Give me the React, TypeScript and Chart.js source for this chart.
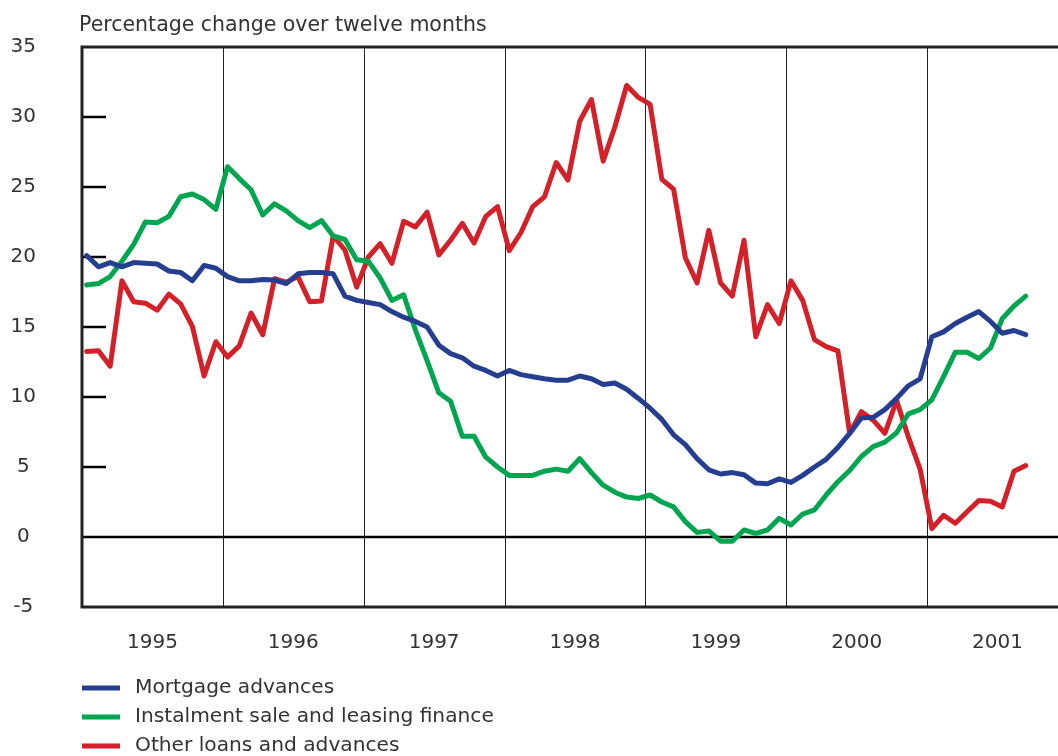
import React, { useEffect, useRef } from 'react';
import { Chart, registerables } from 'chart.js';

Chart.register(...registerables);

// Monthly observations, January 1995 to September 2001
const years = ['1995', '1996', '1997', '1998', '1999', '2000', '2001'];
const yTicks = [-5, 0, 5, 10, 15, 20, 25, 30, 35];

const mortgageAdvances = [
  20.1, 19.3, 19.6, 19.3, 19.6, 19.55, 19.5, 19.0, 18.9, 18.3, 19.4, 19.2,
  18.6, 18.3, 18.3, 18.4, 18.35, 18.1, 18.8, 18.9, 18.9, 18.8, 17.2, 16.9,
  16.75, 16.6, 16.1, 15.7, 15.4, 15.0, 13.7, 13.1, 12.8, 12.2, 11.9, 11.5,
  11.9, 11.6, 11.45, 11.3, 11.2, 11.2, 11.5, 11.3, 10.9, 11.0, 10.55, 9.9,
  9.2, 8.4, 7.3, 6.6, 5.6, 4.8, 4.5, 4.6, 4.45, 3.85, 3.8, 4.15,
  3.9, 4.4, 5.0, 5.55, 6.4, 7.4, 8.5, 8.55, 9.1, 9.9, 10.8, 11.3,
  14.3, 14.65, 15.25, 15.7, 16.1, 15.4, 14.55, 14.75, 14.45,
];

const instalmentSale = [
  18.0, 18.1, 18.6, 19.7, 20.9, 22.5, 22.45, 22.9, 24.3, 24.5, 24.1, 23.4,
  26.45, 25.6, 24.8, 23.0, 23.8, 23.3, 22.6, 22.1, 22.6, 21.5, 21.25, 19.8,
  19.7, 18.5, 16.9, 17.3, 14.8, 12.6, 10.3, 9.7, 7.2, 7.2, 5.7, 5.0,
  4.4, 4.4, 4.4, 4.7, 4.85, 4.7, 5.6, 4.6, 3.7, 3.2, 2.85, 2.75,
  3.0, 2.5, 2.15, 1.1, 0.33, 0.43, -0.3, -0.3, 0.5, 0.26, 0.5, 1.33,
  0.86, 1.64, 1.93, 3.0, 3.95, 4.75, 5.75, 6.45, 6.78, 7.45, 8.8, 9.1,
  9.8, 11.45, 13.2, 13.2, 12.75, 13.5, 15.6, 16.5, 17.2,
];

const otherLoans = [
  13.25, 13.3, 12.2, 18.3, 16.8, 16.7, 16.2, 17.35, 16.65, 15.05, 11.5, 13.95,
  12.85, 13.65, 16.0, 14.45, 18.45, 18.2, 18.6, 16.8, 16.85, 21.5, 20.5, 17.85,
  20.0, 20.95, 19.55, 22.55, 22.15, 23.2, 20.15, 21.2, 22.4, 21.0, 22.9, 23.6,
  20.45, 21.75, 23.6, 24.3, 26.75, 25.5, 29.7, 31.25, 26.85, 29.3, 32.25, 31.4,
  30.9, 25.55, 24.85, 19.95, 18.15, 21.9, 18.15, 17.2, 21.2, 14.3, 16.6, 15.25,
  18.3, 16.9, 14.1, 13.6, 13.3, 7.4, 8.95, 8.35, 7.4, 9.75, 7.15, 4.85,
  0.6, 1.55, 0.98, 1.8, 2.6, 2.55, 2.15, 4.7, 5.1,
];

const titleText = 'Percentage change over twelve months';
const seriesNames = ['Mortgage advances', 'Instalment sale and leasing finance', 'Other loans and advances'];
const seriesColors = ['#263E8F', '#00A54F', '#D42129'];

const FONT = '"DejaVu Sans", "Liberation Sans", Arial, sans-serif';
const TEXT_COLOR = '#333333';
const MONTH_OFFSET = 0.4;

const toPoints = (arr: number[]) => arr.map((v, i) => ({ x: i + MONTH_OFFSET, y: v }));

const decorPlugin = {
  id: 'decor',
  beforeDatasetsDraw(chart: any) {
    const { ctx, chartArea, scales } = chart;
    const { left, right, top, bottom } = chartArea;
    const x = scales.x;
    const y = scales.y;
    ctx.save();
    // year separators
    ctx.strokeStyle = '#222';
    ctx.lineWidth = 1;
    for (let k = 1; k < years.length; k++) {
      const px = Math.round(x.getPixelForValue(12 * k)) + 0.5;
      ctx.beginPath();
      ctx.moveTo(px, top);
      ctx.lineTo(px, bottom);
      ctx.stroke();
    }
    // zero line
    ctx.strokeStyle = '#000';
    ctx.lineWidth = 2.5;
    const y0 = y.getPixelForValue(0);
    ctx.beginPath();
    ctx.moveTo(left, y0);
    ctx.lineTo(right, y0);
    ctx.stroke();
    // tick marks
    ctx.lineWidth = 2.5;
    for (const t of yTicks) {
      if (t === -5 || t === 0 || t === 35) continue;
      const py = y.getPixelForValue(t);
      ctx.beginPath();
      ctx.moveTo(left, py);
      ctx.lineTo(left + 24, py);
      ctx.stroke();
    }
    ctx.restore();
  },
  afterDraw(chart: any) {
    const { ctx, chartArea } = chart;
    const { left, right, top, bottom } = chartArea;
    ctx.save();
    // frame
    ctx.strokeStyle = '#222';
    ctx.lineWidth = 3;
    ctx.beginPath();
    ctx.moveTo(right, top);
    ctx.lineTo(left, top);
    ctx.lineTo(left, bottom);
    ctx.lineTo(right, bottom);
    ctx.stroke();
    // title
    ctx.fillStyle = TEXT_COLOR;
    ctx.font = `20.5px ${FONT}`;
    ctx.textAlign = 'left';
    ctx.textBaseline = 'alphabetic';
    ctx.fillText(titleText, 79, 31);
    // legend
    const rows = [688, 717, 746];
    ctx.font = `20.2px ${FONT}`;
    ctx.textBaseline = 'middle';
    for (let i = 0; i < seriesNames.length; i++) {
      ctx.strokeStyle = seriesColors[i];
      ctx.lineWidth = 5;
      ctx.beginPath();
      ctx.moveTo(82, rows[i]);
      ctx.lineTo(120, rows[i]);
      ctx.stroke();
      ctx.fillStyle = TEXT_COLOR;
      ctx.fillText(seriesNames[i], 135, rows[i]);
    }
    ctx.restore();
  },
};

export default function App() {
  const canvasRef = useRef<HTMLCanvasElement | null>(null);

  useEffect(() => {
    if (!canvasRef.current) return;
    const allSeries = [mortgageAdvances, instalmentSale, otherLoans];
    const chart = new Chart(canvasRef.current, {
      type: 'line',
      data: {
        datasets: allSeries.map((s, i) => ({
          label: seriesNames[i],
          data: toPoints(s),
          borderColor: seriesColors[i],
          backgroundColor: seriesColors[i],
          borderWidth: 5,
          pointRadius: 0,
          tension: 0,
          borderJoinStyle: 'round' as const,
          borderCapStyle: 'round' as const,
          fill: false,
        })),
      },
      options: {
        animation: false,
        responsive: false,
        maintainAspectRatio: false,
        layout: { padding: { left: 11, top: 47, right: 0, bottom: 0 } },
        plugins: { legend: { display: false }, tooltip: { enabled: false }, title: { display: false } },
        scales: {
          x: {
            type: 'linear',
            min: 0,
            max: 83.15,
            grid: { display: false, drawTicks: false },
            border: { display: false },
            afterBuildTicks: (s: any) => {
              s.ticks = years.map((_, k) => ({ value: 6 + 12 * k }));
            },
            afterFit: (s: any) => {
              s.height = 149;
              s.paddingLeft = 0;
              s.paddingRight = 0;
            },
            ticks: {
              autoSkip: false,
              maxRotation: 0,
              padding: 24,
              color: TEXT_COLOR,
              font: { family: FONT, size: 20 },
              callback: (v: any) => years[Math.round((Number(v) - 6) / 12)] ?? '',
            },
          },
          y: {
            type: 'linear',
            min: -5,
            max: 35,
            grid: { display: false, drawTicks: false },
            border: { display: false },
            afterBuildTicks: (s: any) => {
              s.ticks = yTicks.map((v) => ({ value: v }));
            },
            afterFit: (s: any) => {
              s.width = 71;
              s.paddingTop = 0;
              s.paddingBottom = 0;
            },
            ticks: {
              crossAlign: 'center',
              padding: 46,
              color: TEXT_COLOR,
              font: { family: FONT, size: 20 },
              callback: (v: any) => String(v),
            },
          },
        },
      },
      plugins: [decorPlugin],
    } as any);
    return () => chart.destroy();
  }, []);

  return (
    <div style={{ position: 'absolute', left: 0, top: 0, width: 1058, height: 756, overflow: 'hidden', background: '#fff' }}>
      <canvas ref={canvasRef} width={1058} height={756} style={{ display: 'block', width: 1058, height: 756 }} />
    </div>
  );
}
